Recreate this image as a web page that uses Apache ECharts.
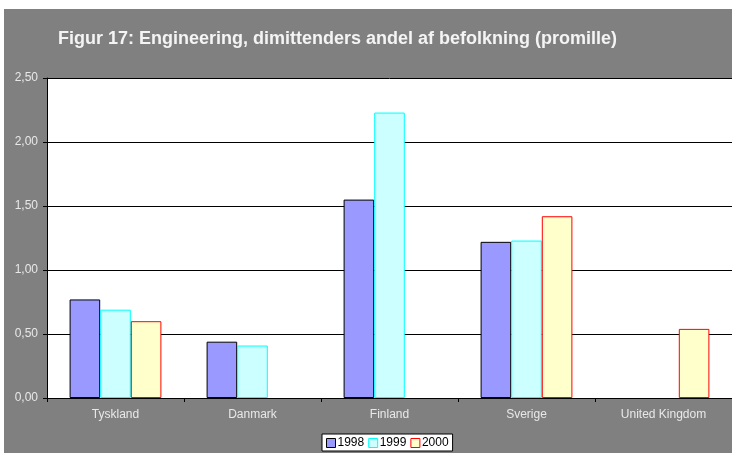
<!DOCTYPE html>
<html><head><meta charset="utf-8">
<script src="https://cdn.jsdelivr.net/npm/echarts@6/dist/echarts.min.js"></script>
<style>html,body{margin:0;padding:0;background:#fff}#c{width:732px;height:453px}</style>
</head><body><div id="c"></div>
<script>
const categories = ['Tyskland', 'Danmark', 'Finland', 'Sverige', 'United Kingdom'];
const seriesNames = ['1998', '1999', '2000'];
const v1998 = [0.77, 0.44, 1.55, 1.22, null];
const v1999 = [0.69, 0.41, 2.23, 1.23, null];
const v2000 = [0.60, null, null, 1.42, 0.54];
const yTicks = { min: 0, max: 2.5, interval: 0.5 };

const fills = ['#9999FF', '#CCFFFF', '#FFFFCC'];
const borders = ['#000000', '#00FFFF', '#FF0000'];
const values = [v1998, v1999, v2000];

const chart = echarts.init(document.getElementById('c'), null, {renderer: 'canvas'});
chart.setOption({
  animation: false,
  backgroundColor: 'transparent',
  graphic: [{ type: 'rect', z: -10, silent: true, shape: { x: 4, y: 9, width: 740, height: 460 }, style: { fill: '#808080' } }],
  title: {
    text: 'Figur 17: Engineering, dimittenders andel af befolkning (promille)',
    left: 53, top: 25,
    textStyle: { color: '#f4f4f4', fontFamily: 'Liberation Sans, Arial', fontWeight: 'bold', fontSize: 18 }
  },
  legend: {
    data: seriesNames.map((n, i) => ({ name: n, itemStyle: { color: fills[i], borderColor: borders[i], borderWidth: 1 } })),
    left: 322, top: 434, width: 134, height: 18,
    backgroundColor: '#ffffff', borderColor: '#000000', borderWidth: 1,
    padding: [3, 4, 2, 4], itemGap: 4, itemWidth: 9, itemHeight: 9,
    icon: 'rect',
    textStyle: { color: '#000', fontFamily: 'Liberation Sans, Arial', fontSize: 12, padding: [0, 0, 0, -3] }
  },
  grid: { left: 47, right: -3, top: 78, bottom: 55, show: true, backgroundColor: '#ffffff', borderWidth: 0 },
  xAxis: {
    type: 'category', data: categories,
    axisLine: { lineStyle: { color: '#000', width: 1 } },
    axisTick: { show: true, length: 4, lineStyle: { color: '#000' } },
    axisLabel: { color: '#e8e8e8', fontFamily: 'Liberation Sans, Arial', fontSize: 12, margin: 11 }
  },
  yAxis: {
    type: 'value', min: yTicks.min, max: yTicks.max, interval: yTicks.interval,
    axisLine: { show: true, lineStyle: { color: '#000', width: 1 } },
    axisTick: { show: true, length: 4, lineStyle: { color: '#000' } },
    splitLine: { show: true, lineStyle: { color: '#000', width: 1 } },
    axisLabel: { color: '#e8e8e8', fontFamily: 'Liberation Sans, Arial', fontSize: 12, margin: 9,
      formatter: v => v.toFixed(2).replace('.', ',') }
  },
  series: seriesNames.map((n, i) => ({
    name: n, type: 'bar', data: values[i],
    barGap: '0%', barCategoryGap: '33%',
    itemStyle: { color: fills[i], borderColor: borders[i], borderWidth: 1 }
  }))
});
</script></body></html>
